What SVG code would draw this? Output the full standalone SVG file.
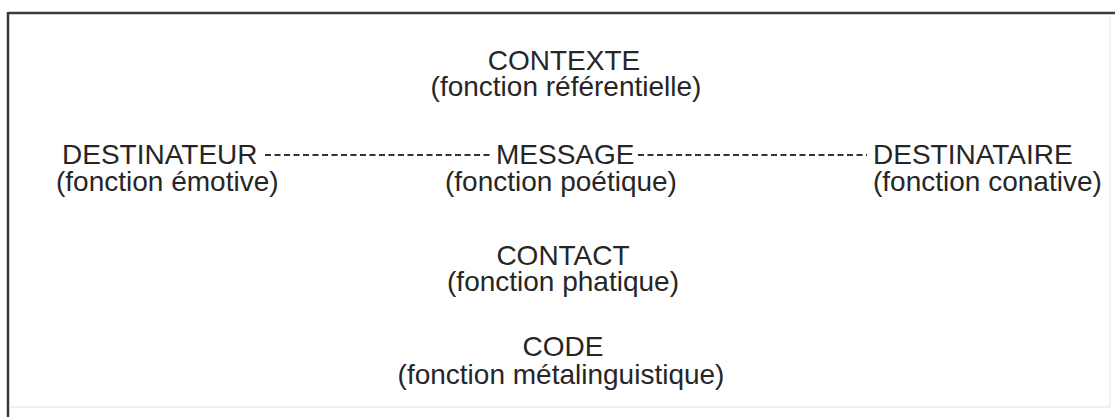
<svg xmlns="http://www.w3.org/2000/svg" width="1115" height="417" viewBox="0 0 1115 417">
<style>
text{font-family:"Liberation Sans",Arial,sans-serif;font-size:28px;fill:#262626}
.c{text-anchor:middle}
.dash{stroke:#333;stroke-width:2;stroke-dasharray:6 3.5;fill:none}
</style>
<rect x="0" y="0" width="1115" height="417" fill="#fff"/>
<g id="frame">
<line x1="8" y1="13" x2="1115" y2="13" stroke="#3a3a3a" stroke-width="2.5"/>
<line x1="8" y1="12" x2="8" y2="417" stroke="#3a3a3a" stroke-width="2.5"/>
<line x1="1110" y1="15" x2="1110" y2="407" stroke="#e6e6e6" stroke-width="1"/>
<line x1="9" y1="407" x2="1110" y2="407" stroke="#e2e2e2" stroke-width="1"/>
</g>
<g id="connectors">
<line class="dash" x1="265" y1="155" x2="490" y2="155"/>
<line class="dash" x1="638" y1="155" x2="867" y2="155"/>
</g>
<g id="contexte">
<text class="c" x="564" y="70">CONTEXTE</text>
<text class="c" x="566" y="96">(fonction référentielle)</text>
</g>
<g id="destinateur">
<text x="62" y="164">DESTINATEUR</text>
<text x="56" y="191">(fonction émotive)</text>
</g>
<g id="message">
<text x="496" y="164">MESSAGE</text>
<text x="445" y="191">(fonction poétique)</text>
</g>
<g id="destinataire">
<text x="873" y="164">DESTINATAIRE</text>
<text x="873" y="191">(fonction conative)</text>
</g>
<g id="contact">
<text class="c" x="563" y="265">CONTACT</text>
<text class="c" x="563" y="291">(fonction phatique)</text>
</g>
<g id="code">
<text class="c" x="563" y="356">CODE</text>
<text class="c" x="561" y="384">(fonction métalinguistique)</text>
</g>
</svg>
